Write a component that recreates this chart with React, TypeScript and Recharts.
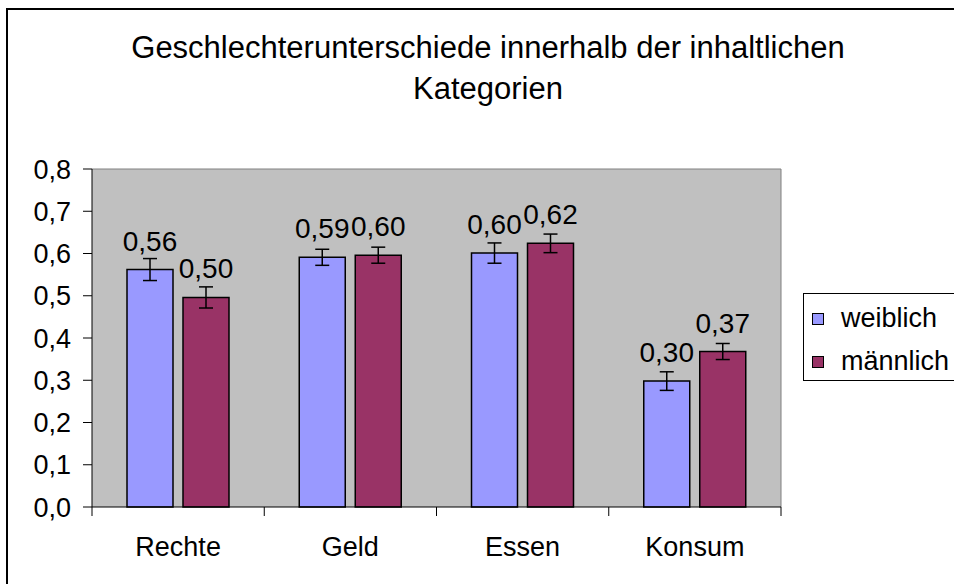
import React from "react";
import {
  BarChart,
  Bar,
  XAxis,
  YAxis,
  CartesianGrid,
  ErrorBar,
  LabelList,
} from "recharts";

const categories = ["Rechte", "Geld", "Essen", "Konsum"];
const weiblich = [0.562, 0.591, 0.601, 0.298];
const maennlich = [0.496, 0.596, 0.624, 0.368];
const weiblichErr = [0.026, 0.019, 0.024, 0.022];
const maennlichErr = [0.025, 0.019, 0.022, 0.019];
const yTicks = [0, 0.1, 0.2, 0.3, 0.4, 0.5, 0.6, 0.7, 0.8];
const seriesNames = ["weiblich", "männlich"];

const FONT = '"Liberation Sans", Arial, sans-serif';
const W_COLOR = "#9999ff";
const M_COLOR = "#993366";
const LABEL_GAP = 30;
const TICK_LEN = 9;

const data = categories.map((name, i) => ({
  name,
  weiblich: weiblich[i],
  maennlich: maennlich[i],
  wErr: weiblichErr[i],
  mErr: maennlichErr[i],
}));

const comma = (v: any, digits: number) =>
  Number(v).toFixed(digits).replace(".", ",");

// category label plus the Excel-style tick marks between categories
function CategoryTick(props: any) {
  const { x, y, payload, index } = props;
  const half = payload.offset || 86;
  const axisY = y - LABEL_GAP;
  const last = index === categories.length - 1;
  return (
    <g>
      <line x1={x - half} x2={x - half} y1={axisY} y2={axisY + TICK_LEN} stroke="#000" />
      {last && (
        <line x1={x + half} x2={x + half} y1={axisY} y2={axisY + TICK_LEN} stroke="#000" />
      )}
      <text
        x={x}
        y={y}
        dy="0.71em"
        textAnchor="middle"
        fill="#000"
        fontSize={27}
        fontFamily={FONT}
      >
        {payload.value}
      </text>
    </g>
  );
}

function LegendBox() {
  const colors = [W_COLOR, M_COLOR];
  return (
    <div
      style={{
        position: "absolute",
        left: 803,
        top: 293,
        width: 170,
        height: 88,
        border: "1px solid #000",
        background: "#fff",
        boxSizing: "border-box",
        paddingTop: 3,
        fontFamily: FONT,
        fontSize: 27,
      }}
    >
      {seriesNames.map((label, i) => (
        <div
          key={label}
          style={{ display: "flex", alignItems: "center", height: 43 }}
        >
          <span
            style={{
              display: "inline-block",
              width: 10,
              height: 10,
              marginLeft: 8,
              marginRight: 17,
              background: colors[i],
              border: "1px solid #000",
            }}
          />
          <span>{label}</span>
        </div>
      ))}
    </div>
  );
}

export default function App() {
  return (
    <div
      style={{
        position: "fixed",
        left: 0,
        top: 0,
        width: 954,
        height: 584,
        overflow: "hidden",
        background: "#fff",
        fontFamily: FONT,
      }}
    >
      <div
        style={{
          position: "absolute",
          left: 6,
          top: 8,
          width: 1000,
          height: 640,
          border: "2px solid #000",
        }}
      />
      <div
        style={{
          position: "absolute",
          left: 0,
          top: 27,
          width: 976,
          textAlign: "center",
          fontSize: 31,
          lineHeight: "41px",
          color: "#000",
        }}
      >
        <div>Geschlechterunterschiede innerhalb der inhaltlichen</div>
        <div>Kategorien</div>
      </div>
      <div style={{ position: "absolute", left: 0, top: 0 }}>
        <BarChart
          width={954}
          height={584}
          data={data}
          margin={{ top: 169, right: 173, left: 0, bottom: 17 }}
          barSize={46}
          barGap={10}
        >
          <CartesianGrid
            fill="#c0c0c0"
            fillOpacity={1}
            stroke="#808080"
            horizontalCoordinatesGenerator={({ offset }: any) => [offset.top]}
            verticalCoordinatesGenerator={({ offset }: any) => [offset.left + offset.width]}
          />
          <XAxis
            dataKey="name"
            height={60}
            axisLine={{ stroke: "#000" }}
            tickLine={false}
            tickSize={0}
            tickMargin={LABEL_GAP}
            tick={<CategoryTick />}
          />
          <YAxis
            width={92}
            domain={[0, 0.8]}
            ticks={yTicks}
            interval={0}
            tickSize={TICK_LEN}
            tickMargin={12}
            tickFormatter={(v) => comma(v, 1)}
            axisLine={{ stroke: "#000" }}
            tickLine={{ stroke: "#000" }}
            tick={{ fill: "#000", fontSize: 27, fontFamily: FONT }}
          />
          <Bar
            dataKey="weiblich"
            name={seriesNames[0]}
            fill={W_COLOR}
            stroke="#000"
            strokeWidth={1.5}
            isAnimationActive={false}
          >
            <ErrorBar dataKey="wErr" width={7} stroke="#000" strokeWidth={1.5} direction="y" />
            <LabelList
              dataKey="weiblich"
              position="top"
              offset={19}
              formatter={(v: any) => comma(v, 2)}
              style={{ fill: "#000", fontSize: 28, fontFamily: FONT }}
            />
          </Bar>
          <Bar
            dataKey="maennlich"
            name={seriesNames[1]}
            fill={M_COLOR}
            stroke="#000"
            strokeWidth={1.5}
            isAnimationActive={false}
          >
            <ErrorBar dataKey="mErr" width={7} stroke="#000" strokeWidth={1.5} direction="y" />
            <LabelList
              dataKey="maennlich"
              position="top"
              offset={19}
              formatter={(v: any) => comma(v, 2)}
              style={{ fill: "#000", fontSize: 28, fontFamily: FONT }}
            />
          </Bar>
        </BarChart>
      </div>
      <LegendBox />
    </div>
  );
}
